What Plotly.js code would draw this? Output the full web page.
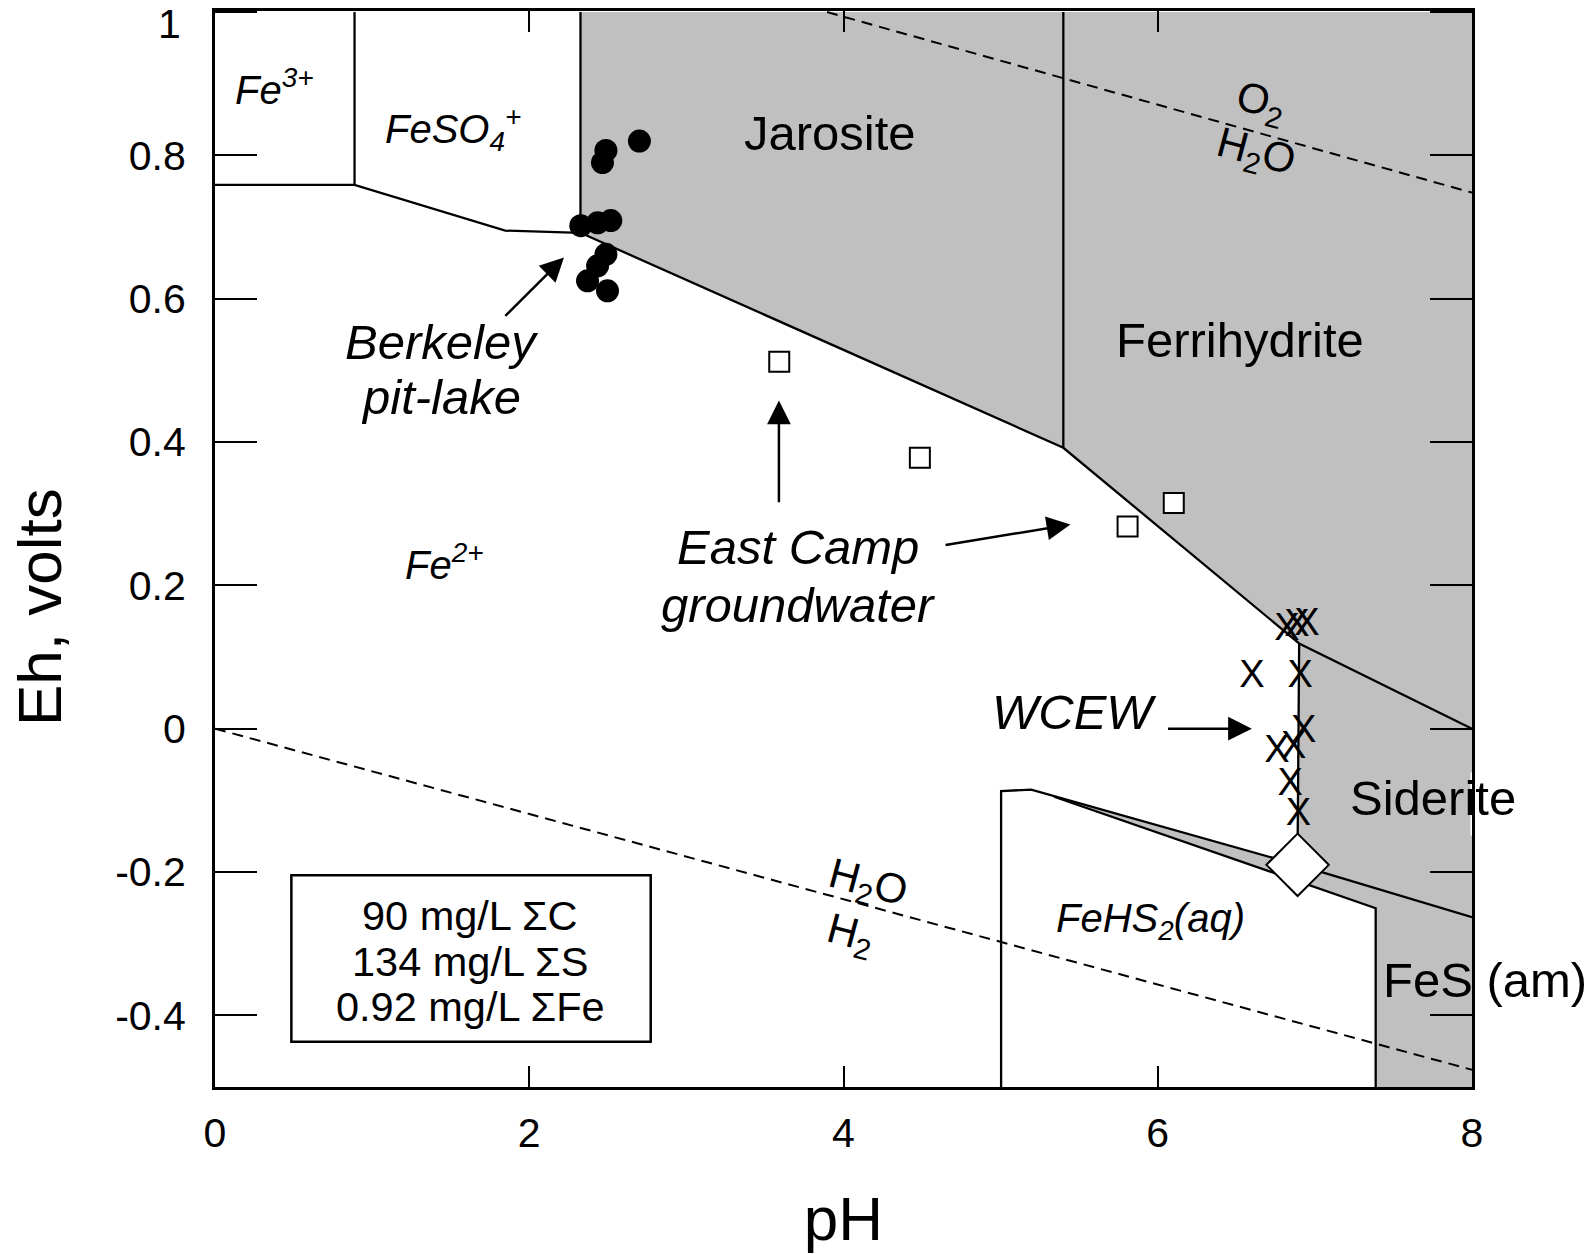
<!DOCTYPE html>
<html>
<head>
<meta charset="utf-8">
<script src="https://cdn.plot.ly/plotly-3.0.1.min.js"></script>
<style>
  html, body { margin: 0; padding: 0; background: #ffffff; }
  #chart { width: 1594px; height: 1254px; }
</style>
</head>
<body>
<div id="chart"></div>
<script>
// Eh–pH stability diagram for Fe–S–C–O–H with Berkeley pit-lake, East Camp and WCEW waters

// ---- field boundaries (pH, Eh in volts) ----
const ferricBoundaryPH = [0.888, 0.888];
const ferricBoundaryEh = [1.0, 0.759];
const ferrousUpperPH = [0.0, 0.888, 1.847, 2.326];
const ferrousUpperEh = [0.759, 0.759, 0.695, 0.692];
const jarositeLeftPH = [2.326, 2.326];
const jarositeLeftEh = [1.0, 0.692];
const oxideLowerPH = [2.326, 5.399, 6.9, 8.0];
const oxideLowerEh = [0.692, 0.392, 0.119, 0.0];
const jarositeFerrihydritePH = [5.399, 5.399];
const jarositeFerrihydriteEh = [0.392, 1.0];
const sideriteLeftPH = [6.9, 6.89];
const sideriteLeftEh = [0.119, -0.17];
const sulfideUpperPH = [5.003, 5.003, 5.195, 6.89, 8.0];
const sulfideUpperEh = [-0.5, -0.087, -0.085, -0.19, -0.263];
const sulfideLowerPH = [5.34, 7.387, 7.387];
const sulfideLowerEh = [-0.095, -0.2505, -0.5];

// ---- shaded mineral fields ----
const oxideFieldPH = [2.326, 8.0, 8.0, 6.9, 5.399, 2.326];
const oxideFieldEh = [1.0, 1.0, 0.0, 0.119, 0.392, 0.692];
const carbonateSulfideFieldPH = [6.9, 8.0, 8.0, 7.387, 7.387, 5.34, 6.89];
const carbonateSulfideFieldEh = [0.119, 0.0, -0.5, -0.5, -0.2505, -0.095, -0.19];

// ---- water stability limits ----
const o2LinePH = [3.895, 8.0];
const o2LineEh = [1.0, 0.748];
const h2LinePH = [0.0, 8.0];
const h2LineEh = [0.0, -0.476];

// ---- samples ----
const berkeleyPH = [2.701, 2.488, 2.466, 2.328, 2.435, 2.519, 2.488, 2.435, 2.371, 2.498];
const berkeleyEh = [0.820, 0.807, 0.790, 0.702, 0.706, 0.709, 0.662, 0.646, 0.625, 0.611];
const eastCampPH = [3.591, 4.486, 5.808, 6.102];
const eastCampEh = [0.512, 0.378, 0.282, 0.315];
const wcewPH = [6.822, 6.886, 6.950, 6.599, 6.907, 6.928, 6.758, 6.865, 6.843, 6.896];
const wcewEh = [0.137, 0.142, 0.144, 0.072, 0.072, -0.005, -0.033, -0.028, -0.079, -0.121];
const triplePointPH = [6.89];
const triplePointEh = [-0.19];

// ---- axes ----
const xTickVals = [0, 2, 4, 6, 8];
const xTickText = ['0', '2', '4', '6', '8'];
const yTickVals = [-0.4, -0.2, 0, 0.2, 0.4, 0.6, 0.8, 1];
const yTickText = ['-0.4', '-0.2', '0', '0.2', '0.4', '0.6', '0.8', '1'];

// ---- total concentrations ----
const conditionLines = ['90 mg/L ΣC', '134 mg/L ΣS', '0.92 mg/L ΣFe'];

const FONT = 'Liberation Sans, Arial, Helvetica, sans-serif';
const GRAY = '#c0c0c0';

function boundary(x, y) {
  return { x: x, y: y, mode: 'lines', line: { color: '#000', width: 2.3 }, hoverinfo: 'skip' };
}
function field(x, y) {
  return { x: x, y: y, mode: 'lines', fill: 'toself', fillcolor: GRAY, line: { width: 0 }, hoverinfo: 'skip' };
}
function waterLine(x, y) {
  return { x: x, y: y, mode: 'lines', line: { color: '#000', width: 2, dash: '11px,7px' }, hoverinfo: 'skip' };
}

const traces = [
  field(oxideFieldPH, oxideFieldEh),
  field(carbonateSulfideFieldPH, carbonateSulfideFieldEh),
  boundary(ferricBoundaryPH, ferricBoundaryEh),
  boundary(ferrousUpperPH, ferrousUpperEh),
  boundary(jarositeLeftPH, jarositeLeftEh),
  boundary(oxideLowerPH, oxideLowerEh),
  boundary(jarositeFerrihydritePH, jarositeFerrihydriteEh),
  boundary(sideriteLeftPH, sideriteLeftEh),
  boundary(sulfideUpperPH, sulfideUpperEh),
  boundary(sulfideLowerPH, sulfideLowerEh),
  waterLine(o2LinePH, o2LineEh),
  waterLine(h2LinePH, h2LineEh),
  {
    name: 'Berkeley pit-lake', x: berkeleyPH, y: berkeleyEh, mode: 'markers',
    marker: { symbol: 'circle', size: 23, color: '#000' }
  },
  {
    name: 'East Camp groundwater', x: eastCampPH, y: eastCampEh, mode: 'markers',
    marker: { symbol: 'square', size: 20, color: '#fff', line: { color: '#000', width: 2 } }
  },
  {
    name: 'WCEW', x: wcewPH, y: wcewEh, mode: 'text', text: wcewPH.map(() => 'X'),
    textposition: 'middle center', textfont: { family: FONT, size: 38, color: '#000' }
  },
  {
    name: 'triple point', x: triplePointPH, y: triplePointEh, mode: 'markers',
    marker: { symbol: 'diamond', size: 48, color: '#fff', line: { color: '#000', width: 2 } }
  }
];

function label(text, x, y, size, extra) {
  return Object.assign({
    text: text, x: x, y: y, xref: 'x', yref: 'y', showarrow: false,
    xanchor: 'center', yanchor: 'middle',
    font: { family: FONT, size: size, color: '#000' }
  }, extra || {});
}
function arrow(x, y, ax, ay) {
  return {
    text: '', x: x, y: y, ax: ax, ay: ay, xref: 'x', yref: 'y', axref: 'x', ayref: 'y',
    showarrow: true, arrowhead: 2, arrowsize: 1.9, arrowwidth: 2.5, arrowcolor: '#000', standoff: 0
  };
}

// the top Eh label sits just below its tick so it stays inside the figure
const lastTick = yTickText.length - 1;
const yAxisTickText = yTickText.map((t, i) => (i === lastTick ? '' : t));

const annotations = [
  label('<i>Fe<sup>3+</sup></i>', 0.377, 0.895, 40),
  label('<i>FeSO<sub>4</sub><sup>+</sup></i>', 1.514, 0.837, 40),
  label('Jarosite', 3.914, 0.831, 49),
  label('Ferrihydrite', 6.524, 0.543, 49),
  label('O<sub>2</sub>', 6.652, 0.872, 42, { textangle: 15 }),
  label('H<sub>2</sub>O', 6.62, 0.802, 42, { textangle: 15 }),
  label('<i>Fe<sup>2+</sup></i>', 1.459, 0.232, 40),
  label('<i>Berkeley</i>', 1.439, 0.540, 49),
  label('<i>pit-lake</i>', 1.439, 0.463, 49),
  label('<i>East Camp</i>', 3.713, 0.253, 49),
  label('<i>groundwater</i>', 3.713, 0.172, 49),
  label('<i>WCEW</i>', 5.473, 0.023, 49),
  label('Siderite', 7.751, -0.097, 49),
  label('FeS (am)', 7.423, -0.351, 49, { xanchor: 'left' }),
  label('<i>FeHS<sub>2</sub>(aq)</i>', 5.954, -0.269, 40),
  label('H<sub>2</sub>O', 4.153, -0.2176, 42, { textangle: 15 }),
  label('H<sub>2</sub>', 4.045, -0.288, 42, { textangle: 15 }),
  label(conditionLines[0], 1.623, -0.26, 41.5),
  label(conditionLines[1], 1.623, -0.325, 41.5),
  label(conditionLines[2], 1.623, -0.388, 41.5),
  {
    text: yTickText[lastTick], xref: 'paper', yref: 'paper', x: -0.0255, y: 0.988,
    xanchor: 'right', yanchor: 'middle', showarrow: false,
    font: { family: FONT, size: 41, color: '#000' }
  },
  // vertical axis title, centred on the data span rather than the whole axis
  {
    text: 'Eh, volts', xref: 'paper', yref: 'paper', x: -0.14, y: 0.446,
    xanchor: 'center', yanchor: 'middle', textangle: -90, showarrow: false,
    font: { family: FONT, size: 62, color: '#000' }
  },
  arrow(2.221, 0.6575, 1.838, 0.574),
  arrow(3.589, 0.458, 3.589, 0.314),
  arrow(5.444, 0.285, 4.640, 0.256),
  arrow(6.599, 0.0, 6.056, 0.0)
];

const shapes = [
  // box holding the total concentrations
  { type: 'rect', xref: 'x', yref: 'y', x0: 0.486, x1: 2.773, y0: -0.437, y1: -0.2045,
    line: { color: '#000', width: 2.5 }, fillcolor: '#fff', layer: 'above' },
  // gap in the right frame behind the Siderite label
  { type: 'rect', xref: 'x', yref: 'y', x0: 7.99, x1: 8.03, y0: -0.149, y1: -0.061,
    line: { width: 0 }, fillcolor: '#fff', layer: 'above' }
];

const axisCommon = {
  showgrid: false, zeroline: false, showline: true, linecolor: '#000', linewidth: 3,
  mirror: 'ticks', ticks: 'inside', tickcolor: '#000', tickwidth: 2,
  tickfont: { family: FONT, size: 41, color: '#000' }, fixedrange: true
};

const layout = {
  width: 1594, height: 1254,
  margin: { l: 215, r: 122, t: 11, b: 167 },
  paper_bgcolor: '#fff', plot_bgcolor: '#fff',
  showlegend: false,
  xaxis: Object.assign({}, axisCommon, {
    range: [0, 8], tickmode: 'array', tickvals: xTickVals, ticktext: xTickText,
    ticklen: 21, ticklabelstandoff: 8,
    title: { text: 'pH', font: { family: FONT, size: 62, color: '#000' }, standoff: 42 }
  }),
  yaxis: Object.assign({}, axisCommon, {
    range: [-0.5, 1.0015], tickmode: 'array', tickvals: yTickVals, ticktext: yAxisTickText,
    ticklen: 42, ticklabelstandoff: 18
  }),
  annotations: annotations,
  shapes: shapes
};

Plotly.newPlot('chart', traces, layout, { staticPlot: true, displayModeBar: false });
</script>
</body>
</html>
